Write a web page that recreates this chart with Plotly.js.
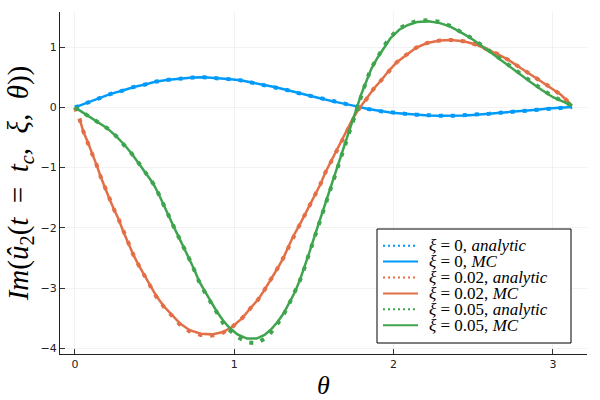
<!DOCTYPE html>
<html>
<head>
<meta charset="utf-8">
<script src="https://cdn.plot.ly/plotly-3.0.1.min.js"></script>
<style>html,body{margin:0;padding:0;background:#fff;}#chart{width:600px;height:400px;}</style>
</head>
<body>
<div id="chart"></div>
<script>
// xi = 0
var blueX = [0, 0.08, 0.15, 0.22, 0.30, 0.37, 0.44, 0.51, 0.59, 0.66, 0.74, 0.81, 0.89, 0.96, 1.04, 1.11, 1.18, 1.26, 1.33, 1.40, 1.48, 1.55, 1.62, 1.69, 1.77, 1.84, 1.91, 1.99, 2.07, 2.14, 2.22, 2.29, 2.37, 2.45, 2.52, 2.60, 2.67, 2.75, 2.82, 2.90, 2.97, 3.05, 3.12];
var blueAnalytic = [0, 0.083, 0.156, 0.22, 0.28, 0.34, 0.38, 0.43, 0.46, 0.48, 0.495, 0.50, 0.49, 0.47, 0.45, 0.415, 0.38, 0.335, 0.29, 0.24, 0.19, 0.145, 0.10, 0.066, 0.017, -0.027, -0.06, -0.088, -0.105, -0.12, -0.133, -0.138, -0.14, -0.133, -0.12, -0.105, -0.088, -0.071, -0.055, -0.038, -0.02, -0.005, 0.005];
var blueMC = [0, 0.083, 0.156, 0.22, 0.28, 0.34, 0.38, 0.43, 0.46, 0.48, 0.495, 0.50, 0.49, 0.47, 0.45, 0.415, 0.38, 0.335, 0.29, 0.24, 0.19, 0.145, 0.10, 0.066, 0.017, -0.027, -0.06, -0.088, -0.105, -0.12, -0.133, -0.138, -0.14, -0.133, -0.12, -0.105, -0.088, -0.071, -0.055, -0.038, -0.02, -0.005, 0.005];

// xi = 0.02
var orangeAX = [0, 0.03, 0.054, 0.083, 0.11, 0.138, 0.163, 0.19, 0.217, 0.246, 0.273, 0.305, 0.337, 0.367, 0.40, 0.436, 0.47, 0.51, 0.56, 0.61, 0.66, 0.72, 0.79, 0.86, 0.93, 0.99, 1.05, 1.10, 1.15, 1.19, 1.235, 1.27, 1.31, 1.34, 1.37, 1.41, 1.444, 1.475, 1.507, 1.54, 1.57, 1.605, 1.64, 1.674, 1.71, 1.743, 1.778, 1.83, 1.875, 1.925, 1.97, 2.02, 2.08, 2.14, 2.21, 2.29, 2.36, 2.44, 2.51, 2.58, 2.65, 2.72, 2.78, 2.84, 2.91, 2.975, 3.05, 3.12];
var orangeAnalytic = [0, -0.20, -0.41, -0.59, -0.77, -0.97, -1.16, -1.35, -1.52, -1.70, -1.85, -2.07, -2.27, -2.45, -2.62, -2.78, -2.95, -3.14, -3.32, -3.47, -3.61, -3.72, -3.78, -3.79, -3.74, -3.64, -3.50, -3.34, -3.19, -3.03, -2.84, -2.68, -2.49, -2.32, -2.14, -1.95, -1.78, -1.62, -1.45, -1.28, -1.09, -0.91, -0.73, -0.565, -0.38, -0.19, -0.04, 0.14, 0.31, 0.46, 0.61, 0.75, 0.875, 0.99, 1.07, 1.11, 1.12, 1.10, 1.05, 0.97, 0.89, 0.79, 0.68, 0.58, 0.46, 0.35, 0.21, 0.03];
var orangeMX = [0.03, 0.054, 0.083, 0.11, 0.138, 0.163, 0.19, 0.217, 0.246, 0.273, 0.305, 0.337, 0.367, 0.40, 0.436, 0.47, 0.51, 0.56, 0.61, 0.66, 0.72, 0.79, 0.86, 0.93, 0.99, 1.05, 1.10, 1.15, 1.19, 1.235, 1.27, 1.31, 1.34, 1.37, 1.41, 1.444, 1.475, 1.507, 1.54, 1.57, 1.605, 1.64, 1.674, 1.71, 1.743, 1.778, 1.83, 1.875, 1.925, 1.97, 2.02, 2.08, 2.14, 2.21, 2.29, 2.36, 2.44, 2.51, 2.58, 2.65, 2.72, 2.78, 2.84, 2.91, 2.975, 3.05, 3.12];
var orangeMC = [-0.20, -0.41, -0.59, -0.77, -0.97, -1.16, -1.35, -1.52, -1.70, -1.85, -2.07, -2.27, -2.45, -2.62, -2.78, -2.94, -3.13, -3.31, -3.45, -3.59, -3.70, -3.76, -3.77, -3.73, -3.64, -3.50, -3.34, -3.19, -3.03, -2.84, -2.68, -2.49, -2.32, -2.14, -1.95, -1.78, -1.62, -1.45, -1.28, -1.09, -0.91, -0.73, -0.565, -0.38, -0.19, -0.04, 0.14, 0.31, 0.46, 0.61, 0.75, 0.875, 0.99, 1.07, 1.11, 1.12, 1.10, 1.05, 0.97, 0.89, 0.79, 0.68, 0.58, 0.46, 0.35, 0.21, 0.03];

// xi = 0.05
var greenX = [0, 0.07, 0.14, 0.20, 0.26, 0.31, 0.357, 0.405, 0.447, 0.49, 0.524, 0.556, 0.587, 0.62, 0.656, 0.685, 0.72, 0.75, 0.78, 0.817, 0.853, 0.89, 0.93, 0.97, 1.02, 1.08, 1.14, 1.19, 1.23, 1.27, 1.31, 1.345, 1.38, 1.41, 1.44, 1.47, 1.50, 1.527, 1.555, 1.58, 1.60, 1.62, 1.647, 1.668, 1.69, 1.71, 1.73, 1.75, 1.77, 1.80, 1.83, 1.86, 1.90, 1.94, 1.98, 2.035, 2.09, 2.15, 2.22, 2.29, 2.35, 2.42, 2.49, 2.55, 2.61, 2.68, 2.74, 2.80, 2.865, 2.93, 3.0, 3.06, 3.12];
var greenAnalytic = [0, -0.12, -0.23, -0.34, -0.48, -0.62, -0.77, -0.94, -1.10, -1.26, -1.43, -1.60, -1.79, -1.98, -2.17, -2.35, -2.53, -2.71, -2.90, -3.08, -3.25, -3.42, -3.58, -3.70, -3.81, -3.90, -3.92, -3.84, -3.74, -3.60, -3.44, -3.26, -3.08, -2.89, -2.67, -2.43, -2.18, -1.96, -1.74, -1.54, -1.38, -1.20, -1.01, -0.82, -0.65, -0.46, -0.31, -0.16, -0.01, 0.23, 0.45, 0.65, 0.85, 1.02, 1.17, 1.31, 1.39, 1.44, 1.45, 1.42, 1.36, 1.26, 1.15, 1.04, 0.92, 0.79, 0.67, 0.55, 0.42, 0.30, 0.18, 0.10, 0.03];
var greenMC = [0, -0.12, -0.23, -0.34, -0.48, -0.62, -0.77, -0.94, -1.10, -1.26, -1.43, -1.60, -1.79, -1.98, -2.17, -2.35, -2.53, -2.70, -2.89, -3.06, -3.22, -3.39, -3.54, -3.66, -3.77, -3.84, -3.84, -3.78, -3.69, -3.57, -3.42, -3.25, -3.07, -2.88, -2.66, -2.42, -2.17, -1.95, -1.73, -1.53, -1.37, -1.19, -1.00, -0.81, -0.64, -0.45, -0.30, -0.15, 0.00, 0.24, 0.45, 0.64, 0.83, 1.00, 1.15, 1.29, 1.37, 1.42, 1.43, 1.40, 1.35, 1.25, 1.14, 1.03, 0.91, 0.78, 0.66, 0.54, 0.41, 0.29, 0.17, 0.10, 0.03];

var legendNames = [
  '<i>ξ</i> = 0, <i>analytic</i>',
  '<i>ξ</i> = 0, <i>MC</i>',
  '<i>ξ</i> = 0.02, <i>analytic</i>',
  '<i>ξ</i> = 0.02, <i>MC</i>',
  '<i>ξ</i> = 0.05, <i>analytic</i>',
  '<i>ξ</i> = 0.05, <i>MC</i>'
];
var xTicks = [0, 1, 2, 3];
var yTicks = [-4, -3, -2, -1, 0, 1];

var cBlue = '#009AFA', cOrange = '#E36F47', cGreen = '#3EA44E';
var seriesColors = [cBlue, cBlue, cOrange, cOrange, cGreen, cGreen];
var seriesDotted = [true, false, true, false, true, false];
var dotLine = function(c){ return {color: c, width: 4, dash: '4px,8px'}; };
var solidLine = function(c){ return {color: c, width: 2.5}; };

var traces = [
  {x: blueX, y: blueAnalytic, name: legendNames[0], mode: 'lines', line: dotLine(cBlue)},
  {x: blueX, y: blueMC, name: legendNames[1], mode: 'lines', line: solidLine(cBlue)},
  {x: orangeAX, y: orangeAnalytic, name: legendNames[2], mode: 'lines', line: dotLine(cOrange)},
  {x: orangeMX, y: orangeMC, name: legendNames[3], mode: 'lines', line: solidLine(cOrange)},
  {x: greenX, y: greenAnalytic, name: legendNames[4], mode: 'lines', line: dotLine(cGreen)},
  {x: greenX, y: greenMC, name: legendNames[5], mode: 'lines', line: solidLine(cGreen)}
];
traces.forEach(function(t){ t.showlegend = false; });

// hand-made legend (box, line samples, labels) in paper coordinates
var L = 60, W = 527, B = 354, H = 342;
var px = function(v){ return (v - L) / W; };
var py = function(v){ return (B - v) / H; };
var shapes = [{
  type: 'rect', xref: 'paper', yref: 'paper', layer: 'above',
  x0: px(377), x1: px(571), y0: py(343), y1: py(229),
  fillcolor: '#fff', line: {color: '#000', width: 1}
}];
var annotations = [];
legendNames.forEach(function(name, i){
  var yc = py(245.7 + i * 15.9);
  shapes.push({
    type: 'line', xref: 'paper', yref: 'paper', layer: 'above',
    x0: px(383), x1: px(418), y0: yc, y1: yc,
    line: seriesDotted[i] ? {color: seriesColors[i], width: 2, dash: '2px,3px'} : {color: seriesColors[i], width: 2}
  });
  annotations.push({
    xref: 'paper', yref: 'paper', x: px(428), y: yc, xanchor: 'left', yanchor: 'middle',
    text: name, showarrow: false, borderpad: 0,
    font: {family: 'Liberation Serif', size: 17, color: '#000'}
  });
});

var axisCommon = {
  showline: true, linecolor: '#222', linewidth: 1, mirror: false,
  showgrid: true, gridcolor: 'rgba(0,0,0,0.1)', gridwidth: 0.5,
  zeroline: false, ticks: 'inside', ticklen: 5, tickcolor: '#333', tickwidth: 1,
  tickfont: {family: 'DejaVu Sans', size: 11, color: '#222'}
};

var layout = {
  width: 600, height: 400,
  margin: {l: 60, r: 13, t: 12, b: 46},
  paper_bgcolor: '#fff', plot_bgcolor: '#fff',
  showlegend: false,
  shapes: shapes,
  annotations: annotations,
  xaxis: Object.assign({}, axisCommon, {
    range: [-0.0936, 3.2136], tickmode: 'array', tickvals: xTicks, ticktext: xTicks.map(String),
    title: {text: '<i>θ</i>', font: {family: 'Liberation Serif', size: 26, color: '#000'}, standoff: 6}
  }),
  yaxis: Object.assign({}, axisCommon, {
    range: [-4.096, 1.585], tickmode: 'array', tickvals: yTicks,
    title: {text: '<i>Im</i>(<i>û</i><sub>2</sub>(<i>t</i>  =  <i>t</i><sub><i>c</i></sub>,  <i>ξ</i>,  <i>θ</i>))', font: {family: 'Liberation Serif', size: 29, color: '#000'}, standoff: 3}
  })
};

Plotly.newPlot('chart', traces, layout, {displayModeBar: false, staticPlot: true});
</script>
</body>
</html>
